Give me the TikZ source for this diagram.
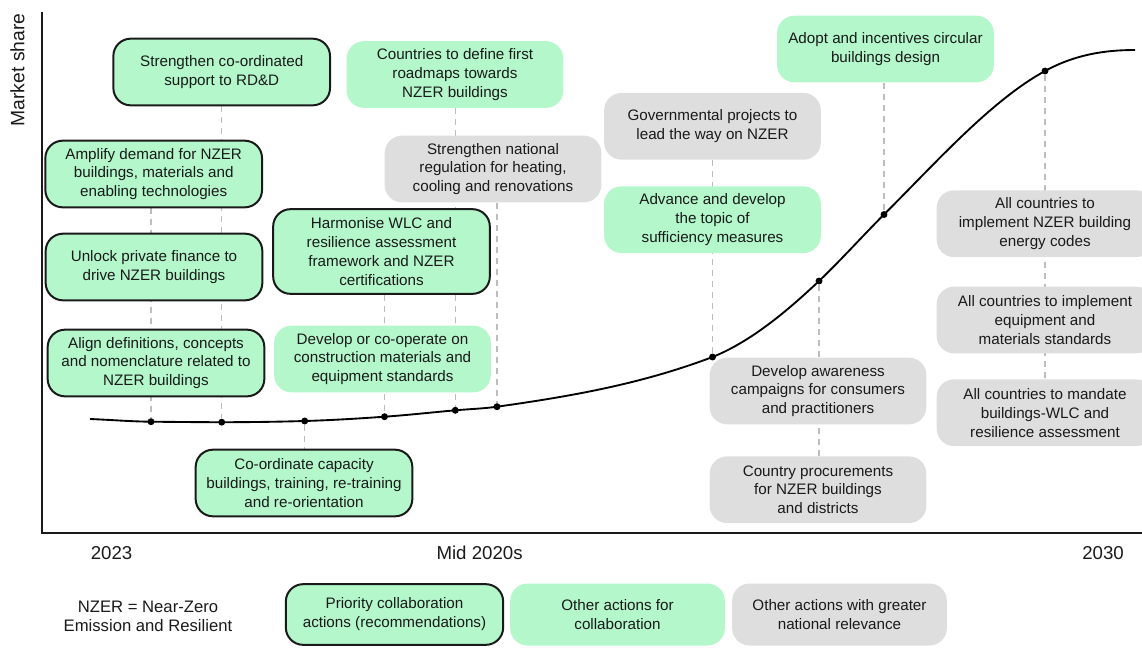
\documentclass[tikz,border=0pt]{standalone}
\usepackage{fontspec}
\setmainfont{Liberation Sans}
\usetikzlibrary{backgrounds}
\definecolor{mint}{HTML}{B3F7CB}
\definecolor{natgray}{HTML}{DEDEDE}
\definecolor{dashgray}{HTML}{BDBDBD}
\definecolor{ink}{HTML}{1A1A1A}
\begin{document}
\begin{tikzpicture}[x=0.75pt,y=-0.75pt,
  box/.style={rounded corners=13pt, align=center, inner sep=0pt, text=ink,
    font=\fontsize{11.4}{14.2}\selectfont, minimum width=162.5pt, minimum height=50pt},
  prio/.style={box, fill=mint, draw=ink, line width=1.5pt},
  other/.style={box, fill=mint},
  natl/.style={box, fill=natgray},
  guide/.style={draw=dashgray, line width=1pt, dash pattern=on 4.5pt off 3.75pt},
  dot/.style={circle, fill=black, inner sep=0pt, minimum size=5.2pt},
  curveline/.style={line width=1.4pt, black},
  axis/.style={line width=1.5pt, ink},
  yearlbl/.style={font=\fontsize{14}{16}\selectfont, text=ink},
  plain/.style={align=center, text=ink, font=\fontsize{12.5}{14.4}\selectfont},
]
\useasboundingbox (0,0) rectangle (1142,647);

% axes
\coordinate (ytop) at (41.5,12);
\coordinate (orig) at (41.5,532.5);
\coordinate (xend) at (1142,532.5);
\draw[axis] (ytop) -- (orig) -- (xend);
\node[rotate=90, font=\fontsize{14.5}{16}\selectfont, text=ink] (ylab) at (17.5,70) {Market share};

% dots
\node[dot] (p1) at (151,421.7) {};
\node[dot] (p2) at (221.7,422.2) {};
\node[dot] (p3) at (304.7,421) {};
\node[dot] (p4) at (384.5,416.7) {};
\node[dot] (p5) at (455.3,410.3) {};
\node[dot] (p6) at (497,406.7) {};
\node[dot] (p7) at (712.5,357) {};
\node[dot] (p8) at (819,281) {};
\node[dot] (p9) at (884,214.5) {};
\node[dot] (p10) at (1045,71) {};

% curve
\coordinate (cstart) at (90,419);
\coordinate (cend) at (1135,50);
\draw[curveline] (cstart)
  .. controls (110.3,419.8) and (130.7,421.5) .. (p1.center)
  .. controls (174.6,421.9) and (198.1,422.2) .. (p2.center)
  .. controls (249.4,422.2) and (277,421.8) .. (p3.center)
  .. controls (331.3,420.2) and (357.9,418.6) .. (p4.center)
  .. controls (408.1,415.05) and (431.7,412.4) .. (p5.center)
  .. controls (469.2,409.05) and (483.1,408.65) .. (p6.center)
  .. controls (568.8,396.6) and (640.7,384.3) .. (p7.center)
  .. controls (748,342.8) and (783.5,314.7) .. (p8.center)
  .. controls (840.7,260.4) and (862.3,236.2) .. (p9.center)
  .. controls (937.7,160.8) and (991.3,100.5) .. (p10.center)
  .. controls (1075,54.5) and (1105,50) .. (cend);

% boxes
\node[prio] (rdd) at (221.7,72) {Strengthen co-ordinated\\support to RD\&D};
\node[prio] (amp) at (153.7,174) {Amplify demand for NZER\\buildings, materials and\\enabling technologies};
\node[prio] (unl) at (154,267) {Unlock private finance to\\drive NZER buildings};
\node[prio] (ali) at (156,363) {Align definitions, concepts\\and nomenclature related to\\NZER buildings};
\node[prio, minimum height=63.5pt] (har) at (381.5,251.5) {Harmonise WLC and\\resilience assessment\\framework and NZER\\certifications};
\node[other] (dev) at (382.5,359) {Develop or co-operate on\\construction materials and\\equipment standards};
\node[prio] (coo) at (304,483) {Co-ordinate capacity\\buildings, training, re-training\\and re-orientation};
\node[other] (cou) at (455,74.5) {Countries to define first\\roadmaps towards\\NZER buildings};
\node[natl] (sna) at (493,169) {Strengthen national\\regulation for heating,\\cooling and renovations};
\node[natl] (gov) at (712.5,126.3) {Governmental projects to\\lead the way on NZER};
\node[other] (adv) at (712.5,219.7) {Advance and develop\\the topic of\\sufficiency measures};
\node[natl] (awa) at (818,391) {Develop awareness\\campaigns for consumers\\and practitioners};
\node[natl] (pro) at (818,489.7) {Country procurements\\for NZER buildings\\and districts};
\node[other] (ado) at (885.5,49) {Adopt and incentives circular\\buildings design};
\node[natl] (al1) at (1045,223.7) {All countries to\\implement NZER building\\energy codes};
\node[natl] (al2) at (1045,320) {All countries to implement\\equipment and\\materials standards};
\node[natl] (al3) at (1045,412.7) {All countries to mandate\\buildings-WLC and\\resilience assessment};

% guides
\begin{scope}[on background layer]
\draw[guide] (amp.south -| p1) -- (p1);
\draw[guide] (rdd.south) -- (p2);
\draw[guide] (p3) -- (coo.north -| p3);
\draw[guide] (har.south -| p4) -- (p4);
\draw[guide] (cou.south -| p5) -- (p5);
\draw[guide] (sna.south -| p6) -- (p6);
\draw[guide] (gov.south -| p7) -- (p7);
\draw[guide] (p8) -- (pro.north -| p8);
\draw[guide] (ado.south -| p9) -- (p9);
\draw[guide] (p10) -- (al3.north -| p10);
\end{scope}

% year labels
\node[yearlbl] (y2023) at (111.6,553) {2023};
\node[yearlbl] (ymid) at (479.6,553) {Mid 2020s};
\node[yearlbl] (y2030) at (1103,553) {2030};

% legend
\node[plain] (abbr) at (148,616) {NZER = Near-Zero\\Emission and Resilient};
\node[prio, minimum width=163pt, minimum height=45.5pt] (lg1) at (394.5,614.5) {Priority collaboration\\actions (recommendations)};
\node[other, minimum width=161pt, minimum height=46.5pt] (lg2) at (617.5,614.5) {Other actions for\\collaboration};
\node[natl, minimum width=161pt, minimum height=46.5pt] (lg3) at (839.5,614.5) {Other actions with greater\\national relevance};
\end{tikzpicture}
\end{document}
